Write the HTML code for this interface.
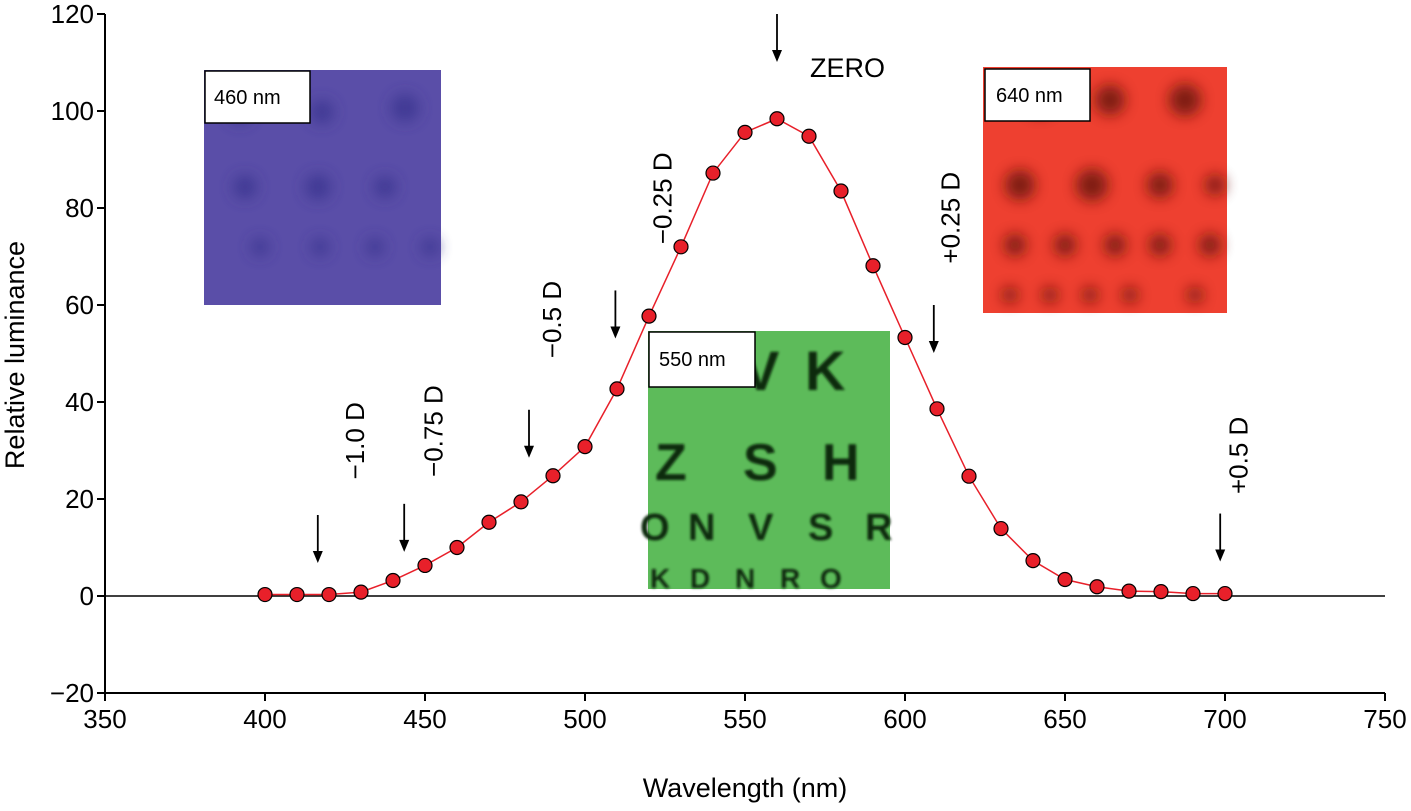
<!DOCTYPE html>
<html><head><meta charset="utf-8">
<style>
body{margin:0;background:#fff;font-family:"Liberation Sans",sans-serif;}
svg text{font-family:"Liberation Sans",sans-serif;}
</style></head>
<body>
<svg width="1411" height="806" viewBox="0 0 1411 806">
<defs>
<filter id="blur8"><feGaussianBlur stdDeviation="7"/></filter>
<filter id="blur1"><feGaussianBlur stdDeviation="1.2"/></filter>
</defs>
<g id="axes"></g>
<g id="insets">
 <g>
  <rect x="204" y="70" width="237" height="235" fill="#5a4ea8"/>
  <g filter="url(#blur8)" fill="#3b3590" opacity="0.8">
   <circle cx="240" cy="112" r="12"/><circle cx="322" cy="112" r="12"/><circle cx="405" cy="108" r="14"/>
   <circle cx="245" cy="187" r="12"/><circle cx="318" cy="187" r="13"/><circle cx="385" cy="187" r="11"/>
   <circle cx="260" cy="247" r="9"/><circle cx="320" cy="247" r="9"/><circle cx="375" cy="247" r="9"/><circle cx="430" cy="247" r="9"/>
  </g>
  <rect x="205" y="71" width="105" height="52" fill="#fff" stroke="#000" stroke-width="1.5"/>
  <text x="214" y="104" font-size="20">460 nm</text>
 </g>
 <g>
  <rect x="983" y="67" width="244" height="246" fill="#ee4030"/>
  <g filter="url(#blur8)" fill="#6a1410" opacity="0.85">
   <circle cx="1040" cy="100" r="15"/><circle cx="1110" cy="100" r="15"/><circle cx="1185" cy="100" r="16"/>
   <circle cx="1020" cy="185" r="15"/><circle cx="1092" cy="185" r="16"/><circle cx="1160" cy="185" r="13"/><circle cx="1215" cy="185" r="10"/>
   <circle cx="1015" cy="245" r="11"/><circle cx="1065" cy="245" r="11"/><circle cx="1115" cy="245" r="11"/><circle cx="1160" cy="245" r="11"/><circle cx="1210" cy="245" r="11"/>
   <circle cx="1010" cy="295" r="8"/><circle cx="1050" cy="295" r="8"/><circle cx="1090" cy="295" r="8"/><circle cx="1130" cy="295" r="8"/><circle cx="1195" cy="295" r="8"/>
  </g>
  <rect x="985" y="69" width="105" height="52" fill="#fff" stroke="#000" stroke-width="1.5"/>
  <text x="996" y="102" font-size="20">640 nm</text>
 </g>
 <g>
  <rect x="648" y="331" width="242" height="258" fill="#5dbb5a"/>
  <g filter="url(#blur1)" fill="#0d2a0d" font-weight="bold">
   <text x="742" y="390" font-size="56">V</text><text x="805" y="390" font-size="56">K</text>
   <text x="655" y="480" font-size="52">Z</text><text x="743" y="480" font-size="52">S</text><text x="822" y="480" font-size="52">H</text>
   <text x="640" y="540" font-size="38">O</text><text x="688" y="540" font-size="38">N</text><text x="748" y="540" font-size="38">V</text><text x="808" y="540" font-size="38">S</text><text x="865" y="540" font-size="38">R</text>
   <text x="650" y="588" font-size="28">K</text><text x="690" y="588" font-size="28">D</text><text x="735" y="588" font-size="28">N</text><text x="780" y="588" font-size="28">R</text><text x="820" y="588" font-size="28">O</text>
  </g>
  <rect x="649" y="332" width="106" height="55" fill="#fff" stroke="#000" stroke-width="1.5"/>
  <text x="659" y="366" font-size="20">550 nm</text>
 </g>
</g>
<g id="series"></g>
<g id="annotations"></g>
</svg>
<script>
const wavelengths=[400,410,420,430,440,450,460,470,480,490,500,510,520,530,540,550,560,570,580,590,600,610,620,630,640,650,660,670,680,690,700];
const luminance=[0.3,0.3,0.3,0.8,3.2,6.3,10,15.2,19.4,24.8,30.8,42.7,57.7,72,87.2,95.6,98.4,94.8,83.5,68.1,53.3,38.6,24.7,13.9,7.3,3.4,1.9,1.0,0.9,0.5,0.5];
const xTicks=[350,400,450,500,550,600,650,700,750];
const yTicks=[-20,0,20,40,60,80,100,120];
const arrowWl=[416.5,443.5,482.5,509.5,560,609,698.5];
const arrowTopY=[16.7,19,38.4,63,120,60,17];
const labels=["−1.0 D","−0.75 D","−0.5 D","−0.25 D","+0.25 D","+0.5 D"];
const labelWl=[431,455.5,492.5,527,617,707];
const labelY=[32,34,57,82,78,29];

const NS="http://www.w3.org/2000/svg";
const X=v=>105+(v-350)*3.2;
const Y=v=>596-v*4.85;
function mk(tag,attrs,parent){const e=document.createElementNS(NS,tag);for(const k in attrs)e.setAttribute(k,attrs[k]);parent.appendChild(e);return e;}
const axes=document.getElementById('axes'),series=document.getElementById('series'),ann=document.getElementById('annotations');

let l=mk('line',{x1:105,y1:Y(120),x2:105,y2:Y(-20),stroke:'#000','stroke-width':2},axes);

l=mk('line',{x1:105,y1:Y(-20),x2:X(750),y2:Y(-20),stroke:'#000','stroke-width':2},axes);

l=mk('line',{x1:105,y1:Y(0),x2:X(750),y2:Y(0),stroke:'#000','stroke-width':1.5},axes);

xTicks.forEach(t=>{
 mk('line',{x1:X(t),y1:Y(-20),x2:X(t),y2:Y(-20)+8,stroke:'#000','stroke-width':2},axes);
 const tx=mk('text',{x:X(t),y:Y(-20)+35,'font-size':26,'text-anchor':'middle'},axes);tx.textContent=t;
 
});
yTicks.forEach(t=>{
 mk('line',{x1:97,y1:Y(t),x2:105,y2:Y(t),stroke:'#000','stroke-width':2},axes);
 const tx=mk('text',{x:94,y:Y(t)+9,'font-size':26,'text-anchor':'end'},axes);tx.textContent=t<0?'−'+(-t):t;
 
});
let tt=mk('text',{x:X(550),y:797,'font-size':27,'text-anchor':'middle'},axes);tt.textContent='Wavelength (nm)';

tt=mk('text',{x:0,y:0,'font-size':27,'text-anchor':'middle',transform:'translate(24,355) rotate(-90)'},axes);tt.textContent='Relative luminance';


const pl=mk('polyline',{points:wavelengths.map((w,i)=>X(w)+','+Y(luminance[i])).join(' '),fill:'none',stroke:'#e8202a','stroke-width':1.5},series);

wavelengths.forEach((w,i)=>{
 const c=mk('circle',{cx:X(w),cy:Y(luminance[i]),r:7,fill:'#e8202a',stroke:'#000','stroke-width':1.2},series);
 
});
arrowWl.forEach((w,i)=>{
 const x=X(w),y0=Y(arrowTopY[i]),y1=y0+48;
 const g=mk('g',{},ann);
 
 mk('line',{x1:x,y1:y0,x2:x,y2:y1-8,stroke:'#000','stroke-width':1.8},g);
 mk('polygon',{points:`${x-5},${y1-12} ${x+5},${y1-12} ${x},${y1}`,fill:'#000'},g);
});
labels.forEach((s,i)=>{
 const x=X(labelWl[i]),y=Y(labelY[i]);
 const t=mk('text',{x:0,y:0,'font-size':26,'text-anchor':'middle',transform:`translate(${x},${y}) rotate(-90)`},ann);
 t.textContent=s;
 
});
tt=mk('text',{x:810,y:77,'font-size':27},ann);tt.textContent='ZERO';

</script>
</body></html>
